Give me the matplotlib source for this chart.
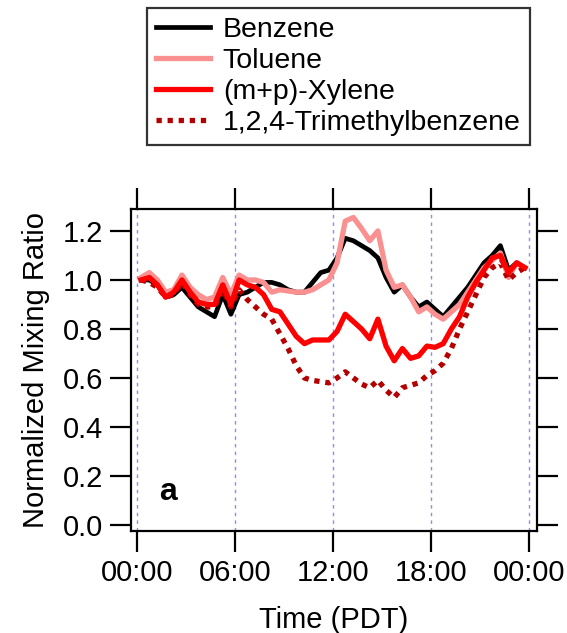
import numpy as np
from matplotlib import pyplot as plt

plt.rcParams['font.family'] = ['Liberation Sans', 'DejaVu Sans']

# half-hourly diurnal averages (hours of day, PDT)
hours = np.arange(0.25, 24, 0.5)

benzene = [1.00, 1.00, 0.98, 0.93, 0.94, 0.97, 0.93, 0.89, 0.87, 0.85,
           0.94, 0.86, 0.94, 0.95, 0.97, 0.99, 0.99, 0.98, 0.96, 0.95,
           0.95, 0.99, 1.03, 1.04, 1.09, 1.17, 1.16, 1.14, 1.12, 1.09,
           1.01, 0.95, 0.98, 0.93, 0.89, 0.91, 0.88, 0.85, 0.89, 0.93,
           0.97, 1.02, 1.07, 1.10, 1.14, 1.04, 1.07, 1.05]
toluene = [1.01, 1.03, 1.00, 0.95, 0.96, 1.02, 0.97, 0.94, 0.92, 0.93,
           1.01, 0.94, 1.02, 1.00, 1.00, 0.99, 0.95, 0.96, 0.955, 0.95,
           0.95, 0.96, 0.98, 1.00, 1.07, 1.24, 1.255, 1.21, 1.16, 1.20,
           1.04, 0.97, 0.98, 0.93, 0.87, 0.89, 0.86, 0.84, 0.87, 0.90,
           0.95, 1.00, 1.05, 1.08, 1.11, 1.01, 1.07, 1.05]
xylene = [1.00, 1.01, 0.98, 0.93, 0.95, 1.00, 0.95, 0.91, 0.90, 0.90,
          0.98, 0.90, 1.00, 0.98, 0.97, 0.94, 0.88, 0.87, 0.82, 0.77,
          0.74, 0.755, 0.755, 0.755, 0.79, 0.86, 0.83, 0.80, 0.76, 0.84,
          0.73, 0.67, 0.72, 0.68, 0.69, 0.73, 0.725, 0.74, 0.80, 0.85,
          0.93, 0.99, 1.04, 1.09, 1.10, 1.03, 1.07, 1.05]
tmb = [1.00, 0.99, 0.97, 0.93, 0.94, 0.99, 0.94, 0.90, 0.89, 0.89,
       0.96, 0.89, 0.96, 0.92, 0.89, 0.86, 0.84, 0.78, 0.72, 0.65,
       0.60, 0.59, 0.585, 0.58, 0.60, 0.625, 0.60, 0.575, 0.56, 0.59,
       0.55, 0.52, 0.56, 0.57, 0.58, 0.61, 0.63, 0.66, 0.72, 0.80,
       0.87, 0.94, 1.01, 1.05, 1.07, 1.00, 1.03, 1.05]

xticks = [0, 6, 12, 18, 24]
xticklabels = ["00:00", "06:00", "12:00", "18:00", "00:00"]
yticks = [0.0, 0.2, 0.4, 0.6, 0.8, 1.0, 1.2]

fig = plt.figure(figsize=(5.67, 6.33), dpi=100)
ax = fig.add_axes([0.231, 0.161, 0.716, 0.509])

for xv in xticks:
    ax.axvline(xv, color="#8c8cf0", lw=1.0, ls=(0, (2.5, 3)), zorder=0)

l1, = ax.plot(hours, benzene, color="black", lw=3.4, label="Benzene", zorder=2)
l2, = ax.plot(hours, toluene, color="#fa9090", lw=3.8, label="Toluene", zorder=3)
l4, = ax.plot(hours, tmb, color="#b40000", lw=3.8, ls=(0, (1, 1.1)),
              label="1,2,4-Trimethylbenzene", zorder=4)
l3, = ax.plot(hours, xylene, color="#ff0000", lw=3.8, label="(m+p)-Xylene", zorder=5)

ax.set_xlim(-0.37, 24.49)
ax.set_ylim(-0.025, 1.29)
ax.set_xticks(xticks)
ax.set_xticklabels(xticklabels)
ax.set_yticks(yticks)
ax.set_yticklabels(["%.1f" % v for v in yticks])

ax.tick_params(axis="both", which="major", direction="out", length=15, width=1.6,
               labelsize=21, pad=5, top=True, right=True)
for sp in ax.spines.values():
    sp.set_linewidth(1.6)

ax.set_xlabel("Time (PDT)", fontsize=21, labelpad=14)
ax.set_ylabel("Normalized Mixing Ratio", fontsize=21, labelpad=9)

ax.text(0.09, 0.12, "a", transform=ax.transAxes, fontsize=23, fontweight="bold",
        ha="center", va="center")

leg = fig.legend(handles=[l1, l2, l3, l4], loc="upper left",
                 bbox_to_anchor=(0.259, 0.987), fontsize=20.5, frameon=True,
                 fancybox=False, borderpad=0.32, labelspacing=0.17,
                 handlelength=1.9, handletextpad=0.45, borderaxespad=0)
leg.get_frame().set_edgecolor("black")
leg.get_frame().set_linewidth(1.6)

plt.savefig("out.png", dpi=100)
